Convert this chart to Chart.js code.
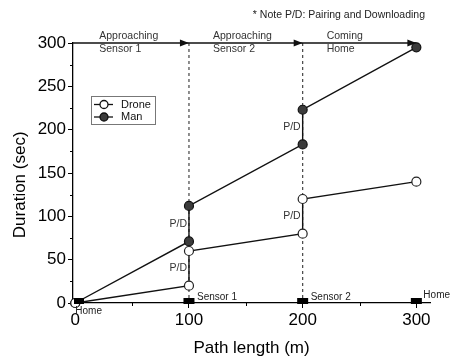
<!DOCTYPE html>
<html>
<head>
<meta charset="utf-8">
<script src="https://cdn.jsdelivr.net/npm/chart.js@4"></script>
<style>
  body { margin: 0; background: #fff; }
  #wrap { width: 452px; height: 361px; }
</style>
</head>
<body>
<div id="wrap"><canvas id="chart" width="452" height="361"></canvas></div>
<script>
// données
const pathX = [0, 100, 100, 200, 200, 300];
const droneDur = [0, 20, 60, 80, 120, 140];
const manDur = [0, 71, 112, 183, 223, 295];

const xTicks = [0, 100, 200, 300];
const xMinor = [50, 150, 250];
const yTicks = [0, 50, 100, 150, 200, 250, 300];
const yMinor = [25, 75, 125, 175, 225, 275];

const sensorX = [0, 100, 200, 300];
const sensorNames = ["Home", "Sensor 1", "Sensor 2", "Home"];
const phaseStart = [0, 100, 200];
const phaseEnd = [100, 200, 300];
const phaseLines = [["Approaching", "Sensor 1"], ["Approaching", "Sensor 2"], ["Coming", "Home"]];
const pdX = [100, 100, 200, 200];
const pdY = [91, 40, 203, 100];

const FONT = "'Liberation Sans', Arial, sans-serif";

const annotations = {
    id: "annotations",
    beforeDatasetsDraw(chart) {
        const { ctx, scales: { x, y } } = chart;
        ctx.save();
        // lignes verticales pointillées
        ctx.strokeStyle = "#444";
        ctx.lineWidth = 1.2;
        ctx.setLineDash([3, 3]);
        [100, 200].forEach(v => {
            ctx.beginPath();
            ctx.moveTo(x.getPixelForValue(v), y.getPixelForValue(300));
            ctx.lineTo(x.getPixelForValue(v), y.getPixelForValue(0));
            ctx.stroke();
        });
        ctx.setLineDash([]);
        // flèche du haut
        const yTop = y.getPixelForValue(300);
        ctx.strokeStyle = "#111";
        ctx.lineWidth = 1.5;
        ctx.beginPath();
        ctx.moveTo(chart.chartArea.left, yTop);
        ctx.lineTo(x.getPixelForValue(300), yTop);
        ctx.stroke();
        ctx.fillStyle = "#111";
        phaseEnd.forEach(v => {
            const px = x.getPixelForValue(v);
            ctx.beginPath();
            ctx.moveTo(px, yTop);
            ctx.lineTo(px - 9, yTop - 3.5);
            ctx.lineTo(px - 9, yTop + 3.5);
            ctx.closePath();
            ctx.fill();
        });
        // textes des phases
        ctx.fillStyle = "#333";
        ctx.font = "10.5px " + FONT;
        ctx.textAlign = "left";
        ctx.textBaseline = "middle";
        phaseStart.forEach((v, i) => {
            const px = x.getPixelForValue(v) + 24;
            ctx.fillText(phaseLines[i][0], px, yTop - 7);
            ctx.fillText(phaseLines[i][1], px, yTop + 6);
        });
        ctx.restore();
    },
    afterDraw(chart) {
        const { ctx, scales: { x, y } } = chart;
        ctx.save();
        const y0 = y.getPixelForValue(0);
        const xl = chart.chartArea.left;
        // petites graduations
        ctx.strokeStyle = "#000";
        ctx.lineWidth = 1;
        yMinor.forEach(v => {
            const py = Math.round(y.getPixelForValue(v)) + 0.5;
            ctx.beginPath();
            ctx.moveTo(xl - 3, py);
            ctx.lineTo(xl, py);
            ctx.stroke();
        });
        xMinor.forEach(v => {
            const px = Math.round(x.getPixelForValue(v)) + 0.5;
            ctx.beginPath();
            ctx.moveTo(px, y0);
            ctx.lineTo(px, y0 + 3);
            ctx.stroke();
        });
        // capteurs
        ctx.fillStyle = "#000";
        sensorX.forEach((v, i) => {
            const px = x.getPixelForValue(v);
            const left = i === 0 ? xl + 1 : px - 5.5;
            ctx.fillRect(left, y0 - 5, i === 0 ? 10 : 11, 6);
        });
        ctx.fillStyle = "#222";
        ctx.font = "10px " + FONT;
        ctx.textBaseline = "middle";
        ctx.textAlign = "left";
        sensorX.forEach((v, i) => {
            const px = x.getPixelForValue(v);
            if (i === 0) ctx.fillText(sensorNames[i], px, y0 + 8);
            else if (i === 3) ctx.fillText(sensorNames[i], px + 7, y0 - 8);
            else ctx.fillText(sensorNames[i], px + 8, y0 - 6);
        });
        // P/D
        ctx.fillStyle = "#333";
        ctx.font = "10.5px " + FONT;
        ctx.textAlign = "right";
        pdX.forEach((v, i) => {
            ctx.fillText("P/D", x.getPixelForValue(v) - 2, y.getPixelForValue(pdY[i]));
        });
        // note
        ctx.fillStyle = "#222";
        ctx.font = "10.5px " + FONT;
        ctx.textAlign = "right";
        ctx.fillText("* Note P/D: Pairing and Downloading", 425, 15);
        // légende
        const lx = 91, ly = 96;
        ctx.strokeStyle = "#777";
        ctx.lineWidth = 1;
        ctx.strokeRect(lx + 0.5, ly + 0.5, 64, 28);
        const items = [["Drone", "#fff"], ["Man", "#3c3c3c"]];
        items.forEach((it, i) => {
            const cy = ly + 8.5 + i * 12.5;
            ctx.strokeStyle = "#111";
            ctx.lineWidth = 1.3;
            ctx.beginPath();
            ctx.moveTo(lx + 3, cy);
            ctx.lineTo(lx + 22, cy);
            ctx.stroke();
            ctx.beginPath();
            ctx.arc(lx + 13, cy, 4, 0, Math.PI * 2);
            ctx.fillStyle = it[1];
            ctx.fill();
            ctx.stroke();
            ctx.fillStyle = "#111";
            ctx.font = "11px " + FONT;
            ctx.textAlign = "left";
            ctx.fillText(it[0], lx + 30, cy);
        });
        ctx.restore();
    }
};

function toPoints(ys) {
    return pathX.map((v, i) => ({ x: v, y: ys[i] }));
}

new Chart(document.getElementById("chart"), {
    type: "scatter",
    data: {
        datasets: [
            {
                label: "Drone",
                data: toPoints(droneDur),
                showLine: true,
                borderColor: "#111",
                borderWidth: 1.4,
                pointBackgroundColor: "#fff",
                pointBorderColor: "#222",
                pointBorderWidth: 1.2,
                pointRadius: 4.5,
                clip: false,
            },
            {
                label: "Man",
                data: toPoints(manDur),
                showLine: true,
                borderColor: "#111",
                borderWidth: 1.4,
                pointBackgroundColor: "#3c3c3c",
                pointBorderColor: "#111",
                pointBorderWidth: 1.2,
                pointRadius: 4.5,
                clip: false,
            },
        ],
    },
    options: {
        responsive: false,
        animation: false,
        layout: { padding: { top: 43, right: 22, left: 0, bottom: 0 } },
        plugins: { legend: { display: false }, tooltip: { enabled: false } },
        scales: {
            x: {
                type: "linear",
                min: -2,
                max: 312,
                afterBuildTicks: s => { s.ticks = xTicks.map(v => ({ value: v })); },
                afterFit: s => { s.height = 58; },
                grid: { drawOnChartArea: false, color: "#000", tickLength: 5 },
                border: { color: "#000", width: 1.3 },
                ticks: { color: "#000", font: { family: FONT, size: 17 }, padding: 2, maxRotation: 0 },
                title: { display: true, text: "Path length (m)", color: "#000", font: { family: FONT, size: 17 }, padding: { top: 0, bottom: 2 } },
            },
            y: {
                type: "linear",
                min: 0,
                max: 300,
                afterBuildTicks: s => { s.ticks = yTicks.map(v => ({ value: v })); },
                afterFit: s => { s.width = 73; },
                grid: { drawOnChartArea: false, color: "#000", tickLength: 5 },
                border: { color: "#000", width: 1.3 },
                ticks: { color: "#000", font: { family: FONT, size: 17 }, padding: 2 },
                // espaces en fin de texte : décale le titre vers le bas comme sur l'original
                title: { display: true, text: "Duration (sec)     ", color: "#000", font: { family: FONT, size: 17 }, padding: { top: 10, bottom: 0 } },
            },
        },
    },
    plugins: [annotations],
});
</script>
</body>
</html>
